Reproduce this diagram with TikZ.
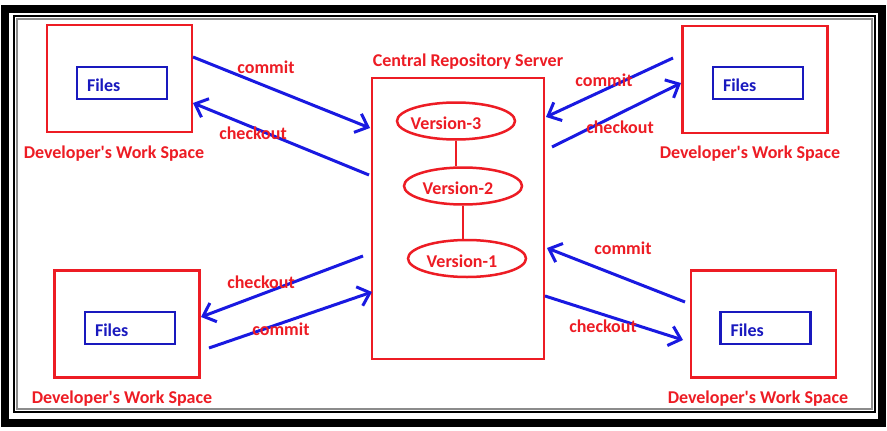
\documentclass[tikz,border=0pt]{standalone}
\usepackage{fontspec}
\setmainfont{Carlito}
\usetikzlibrary{shapes.geometric,arrows.meta}
\definecolor{paintred}{RGB}{237,28,36}
\definecolor{paintblue}{RGB}{25,25,225}
\definecolor{filesblue}{RGB}{25,25,190}
\begin{document}
\begin{tikzpicture}
[x=1pt,y=-1pt,
  spacedecorate/.style={shape=rectangle,draw=paintred,line width=2.5pt,%
    minimum width=145pt,minimum height=107pt,inner sep=0pt},%
  filesdecorate/.style={shape=rectangle,draw=filesblue,line width=2.5pt,%
    text=filesblue,text width=70pt,inner xsep=10pt,inner ysep=0pt,%
    text height=17pt,text depth=0pt,%
    minimum height=32pt,align=left,font=\fontsize{18}{20}\selectfont\bfseries},%
  serverdecorate/.style={shape=rectangle,draw=paintred,line width=2.5pt,%
    minimum width=172pt,minimum height=281pt,inner sep=0pt},%
  versiondecorate/.style={shape=ellipse,draw=paintred,line width=2.5pt,%
    minimum width=118pt,minimum height=37pt,inner sep=0pt,text=paintred,%
    text height=17pt,text depth=0pt,%
    font=\fontsize{18}{20}\selectfont\bfseries},%
  textdecorate/.style={text=paintred,inner sep=0pt,anchor=base,%
    font=\fontsize{18}{20}\selectfont\bfseries},%
  linedecorate/.style={-{Straight Barb[length=11pt,width=20pt]},draw=paintblue,line width=3pt},%
  versionline/.style={-,draw=paintred,line width=2.5pt}]
\useasboundingbox (0,0) rectangle (887,431);
%% frame
\fill[white] (0,0) rectangle (887,431);
\draw[line width=8pt] (5,9) rectangle (882,423);
\draw[line width=2pt] (14,16) rectangle (875,412);
\draw[black!45,line width=2pt] (17,19) rectangle (872,409);
%% work spaces and files
\foreach \spacename/\x/\y/\fx/\fy in {
  ws1/119.5/78.5/122/83, ws2/755/79.5/758/83,
  ws3/127/324/130/328, ws4/763.5/324/765.5/328} {
  \node (\spacename) at (\x,\y) [spacedecorate] {};
  \node (\spacename-files) at (\fx,\fy) [filesdecorate] {Files};
}
\foreach \x/\y in {114/158, 750/158, 122/403, 758/403}
  \node at (\x,\y) [textdecorate] {Developer\textquotesingle s Work Space};
%% central server
\node (srv) at (458,218.5) [serverdecorate] {};
\node (srv-title) at (468,66) [textdecorate] {Central Repository Server};
\node (v3) at (456,121) [versiondecorate] {\hspace*{-20pt}Version-3};
\node (v2) at (463,186) [versiondecorate] {\hspace*{-10pt}Version-2};
\node (v1) at (467,258.5) [versiondecorate] {\hspace*{-10pt}Version-1};
\draw[versionline] (v3.south) -- (v3.south |- v2.north);
\draw[versionline] (v2.south) -- (v2.south |- v1.north);
%% ends of the connectors
\foreach \cname/\x/\y in {
  c1s/193/57, c1e/370/128, c2s/369/175, c2e/193/103,
  c3s/673/58, c3e/546/117, c4s/552/147, c4e/681/83,
  c5s/363/256, c5e/201/317, c6s/209/348, c6e/372/292,
  c7s/685/302, c7e/547/248, c8s/545/296, c8e/683/340} {
  \coordinate (\cname) at (\x,\y);
}
%% connectors
\path
\foreach \startnode/\endnode in {c1s/c1e, c2s/c2e, c3s/c3e, c4s/c4e,
  c5s/c5e, c6s/c6e, c7s/c7e, c8s/c8e} {
  (\startnode) edge[linedecorate] (\endnode)
};
%% connector labels
\foreach \txt/\x/\y in {commit/266/73, checkout/253/139,
  commit/604/86, checkout/620/133, checkout/261/288,
  commit/281/335, commit/623/254, checkout/603/332} {
  \node at (\x,\y) [textdecorate] {\txt};
}
\end{tikzpicture}
\end{document}
